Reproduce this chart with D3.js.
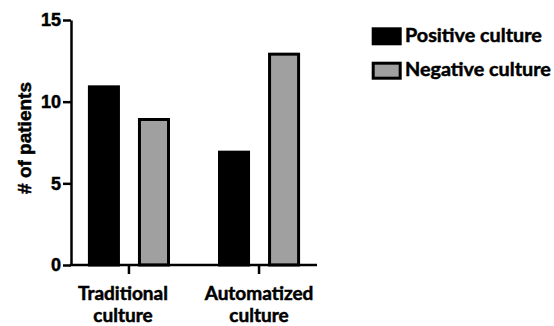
<!DOCTYPE html>
<html>
<head>
<meta charset="utf-8">
<script src="https://cdn.jsdelivr.net/npm/d3@7"></script>
<style>
  html, body { margin: 0; padding: 0; background: #fff; }
  svg { display: block; }
  text { stroke: #000; stroke-width: 0.5px; }
</style>
</head>
<body>
<svg id="chart" width="554" height="326"></svg>
<script>
const categories = [["Traditional", "culture"], ["Automatized", "culture"]];
const categoryKeys = ["Traditional culture", "Automatized culture"];
const seriesNames = ["Positive culture", "Negative culture"];
const positiveValues = [11, 7];
const negativeValues = [9, 13];
const yTicks = [0, 5, 10, 15];
const yLabel = "# of patients";
const colors = ["#000000", "#a0a0a0"];

const series = [positiveValues, negativeValues];
const svg = d3.select("#chart");

const x0 = d3.scaleBand().domain(categoryKeys).range([71, 317]).paddingInner(0.369).paddingOuter(0.13);
const x1 = d3.scaleBand().domain(seriesNames).range([0, x0.bandwidth()]).paddingInner(0.36).paddingOuter(0);
const y = d3.scaleLinear().domain([0, 15]).range([265, 20]);

const sw = 3;
// bars
categoryKeys.forEach((c, ci) => {
  seriesNames.forEach((s, si) => {
    const v = series[si][ci];
    const bx = x0(c) + x1(s);
    svg.append("rect")
      .attr("x", bx + sw / 2)
      .attr("y", y(v) + sw / 2)
      .attr("width", x1.bandwidth() - sw)
      .attr("height", y(0) - y(v) - sw / 2)
      .attr("fill", colors[si])
      .attr("stroke", "#000")
      .attr("stroke-width", sw);
  });
});

// y axis
const yAxis = d3.axisLeft(y).tickValues(yTicks).tickSize(8).tickPadding(2).tickSizeOuter(0);
const gy = svg.append("g").attr("transform", "translate(71,0)").call(yAxis);
gy.select(".domain").attr("stroke", "#000").attr("stroke-width", 2.5);
gy.selectAll(".tick line").attr("stroke-width", 2.5);
gy.selectAll(".tick text")
  .attr("font-family", "'Liberation Sans', Arial, sans-serif")
  .attr("font-weight", "bold")
  .attr("font-size", 18)
  .attr("fill", "#000");

// x axis
const xAxis = d3.axisBottom(x0).tickSize(9).tickSizeOuter(0).tickFormat("");
const gx = svg.append("g").attr("transform", "translate(0,265)").call(xAxis);
gx.select(".domain").attr("stroke", "#000").attr("stroke-width", 2.5).attr("d", "M69.75,0H317");
gx.selectAll(".tick line").attr("stroke-width", 2.5);

// category labels
categoryKeys.forEach((c, ci) => {
  const cx = x0(c) + x0.bandwidth() / 2 + (ci === 0 ? -6 : 0);
  const t = svg.append("text")
    .attr("x", cx)
    .attr("y", 300)
    .attr("text-anchor", "middle")
    .attr("font-family", "Lato, sans-serif")
    .attr("font-weight", "bold")
    .attr("font-size", 19)
    .attr("fill", "#000");
  categories[ci].forEach((line, li) => {
    t.append("tspan").attr("x", cx).attr("dy", li === 0 ? 0 : 22).text(line);
  });
});

// y label
svg.append("text")
  .attr("transform", "translate(31,138) rotate(-90)")
  .attr("text-anchor", "middle")
  .attr("font-family", "'Liberation Sans', Arial, sans-serif")
  .attr("font-weight", "bold")
  .attr("font-size", 19)
  .attr("fill", "#000")
  .text(yLabel);

// legend
seriesNames.forEach((s, i) => {
  const ly = 27.3 + i * 34.4;
  svg.append("rect")
    .attr("x", 371.7 + sw / 2)
    .attr("y", ly + sw / 2)
    .attr("width", 30 - sw)
    .attr("height", 18 - sw)
    .attr("fill", colors[i])
    .attr("stroke", "#000")
    .attr("stroke-width", sw);
  svg.append("text")
    .attr("x", 405)
    .attr("y", ly + 14.5)
    .attr("font-family", "Lato, sans-serif")
    .attr("font-weight", "bold")
    .attr("font-size", 19.8)
    .attr("fill", "#000")
    .text(s);
});
</script>
</body>
</html>
